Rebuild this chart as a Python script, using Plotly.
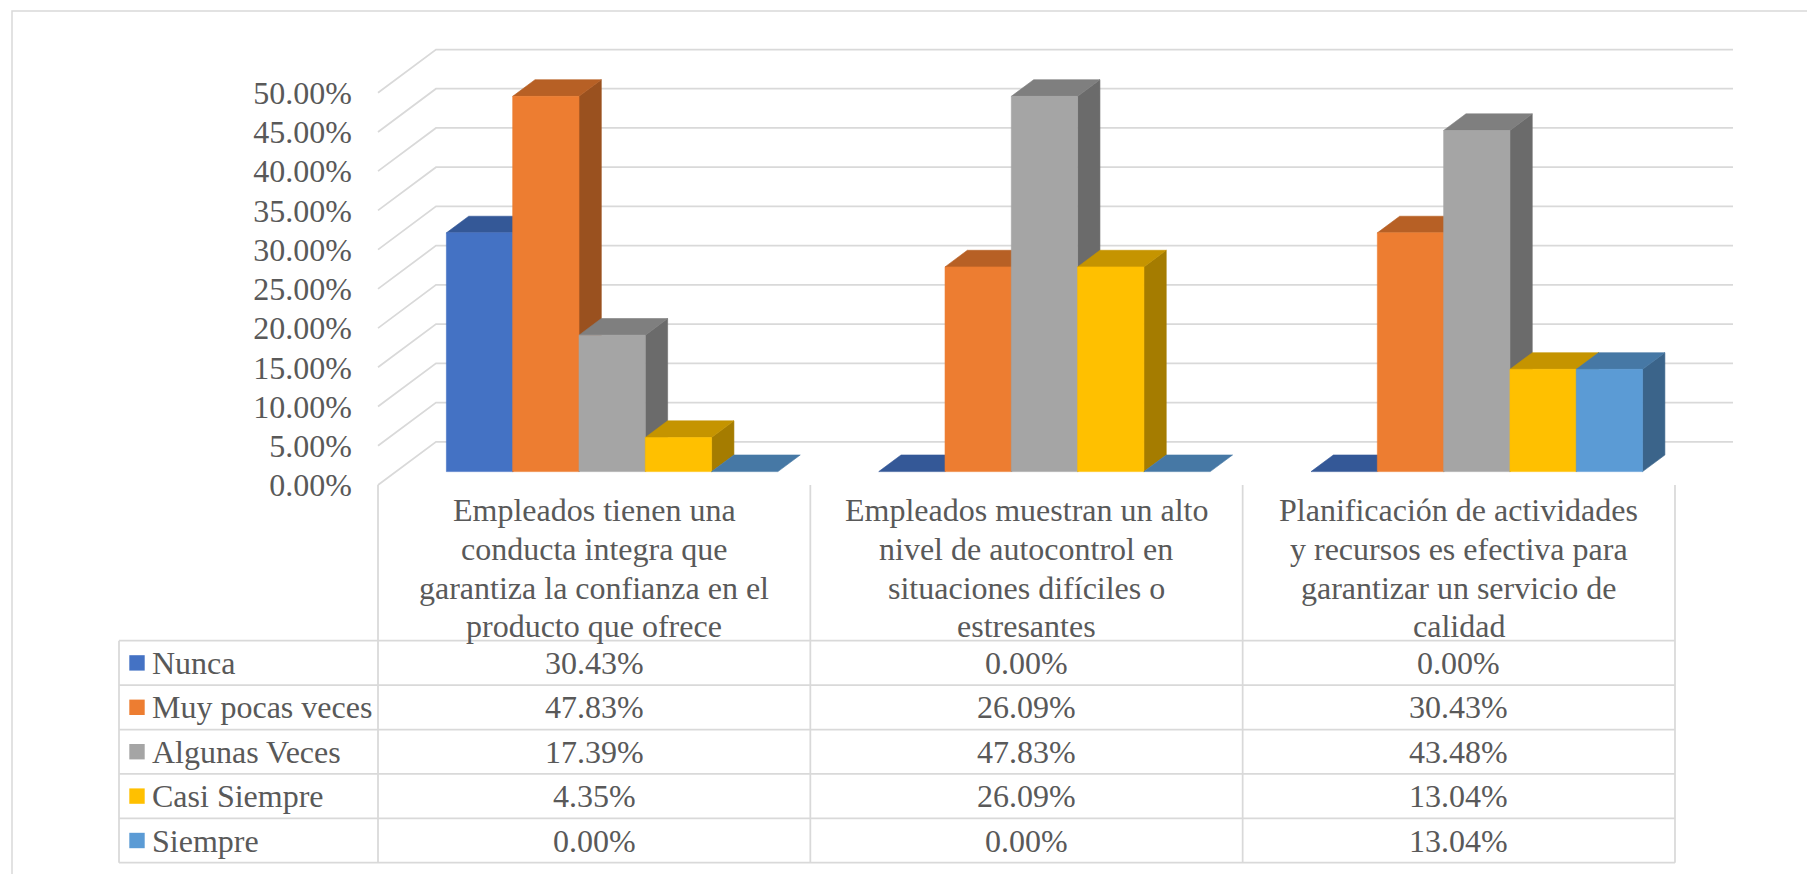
import plotly.graph_objects as go

# ---------------- data ----------------
SERIES = ["Nunca", "Muy pocas veces", "Algunas Veces", "Casi Siempre", "Siempre"]
CATEGORY_LINES = [
    ["Empleados tienen una", "conducta integra que", "garantiza la confianza en el", "producto que ofrece"],
    ["Empleados muestran un alto", "nivel de autocontrol en", "situaciones difíciles o", "estresantes"],
    ["Planificación de actividades", "y recursos es efectiva para", "garantizar un servicio de", "calidad"],
]
NUNCA = [30.43, 0.00, 0.00]
MUY_POCAS = [47.83, 26.09, 30.43]
ALGUNAS = [17.39, 47.83, 43.48]
CASI = [4.35, 26.09, 13.04]
SIEMPRE = [0.00, 0.00, 13.04]
VALUES = [NUNCA, MUY_POCAS, ALGUNAS, CASI, SIEMPRE]
TICKS = [0, 5, 10, 15, 20, 25, 30, 35, 40, 45, 50]

# ---------------- style ----------------
FRONT = ["#4472C4", "#ED7D31", "#A5A5A5", "#FFC000", "#5B9BD5"]


def shade(hexcol, k):
    r, g, b = int(hexcol[1:3], 16), int(hexcol[3:5], 16), int(hexcol[5:7], 16)
    return "#%02X%02X%02X" % (int(r * k), int(g * k), int(b * k))


TOP = [shade(c, 0.775) for c in FRONT]
SIDE = [shade(c, 0.65) for c in FRONT]
TEXT = "#595959"
GRID = "#D9D9D9"
FONT = "'Liberation Serif', 'Times New Roman', Times, serif"
FS = 32

W, H = 1807, 874
X0_PX, PX_PER_X = 378.0, 432.33   # x = -0.5 at this pixel
Y0_PX, PX_PER_Y = 485.0, 7.846    # y = 0 at this pixel
DX, DY = 58.0 / PX_PER_X, 43.2 / PX_PER_Y   # full depth oblique offset
F1, F2 = 0.31, 0.695                       # bar depth span (fraction)
BW = 66.3 / PX_PER_X                       # bar width (x units)


def xd(px):
    return -0.5 + (px - X0_PX) / PX_PER_X


def yd(py):
    return (Y0_PX - py) / PX_PER_Y


def P(x, y, d):
    return x + d * DX, y + d * DY


fig = go.Figure()

# gridlines (left wall diagonal + back wall)
gx, gy = [], []
for v in TICKS:
    gx += [-0.5, -0.5 + DX, 2.5 + DX, None]
    gy += [v, v + DY, v + DY, None]
fig.add_trace(go.Scatter(x=gx, y=gy, mode="lines", line=dict(color=GRID, width=1.75),
                         hoverinfo="skip", showlegend=False))


def poly(pts, color):
    xs = [p[0] for p in pts] + [pts[0][0]]
    ys = [p[1] for p in pts] + [pts[0][1]]
    fig.add_trace(go.Scatter(x=xs, y=ys, mode="lines", fill="toself", fillcolor=color,
                             line=dict(color=color, width=0.6), hoverinfo="skip",
                             showlegend=False))


for i in range(3):
    for j, vals in enumerate(VALUES):
        v = vals[i]
        xl = i - 2.5 * BW + j * BW
        xr = xl + BW
        if v > 0:
            poly([P(xr, 0, F1), P(xr, v, F1), P(xr, v, F2), P(xr, 0, F2)], SIDE[j])
        poly([P(xl, v, F1), P(xr, v, F1), P(xr, v, F2), P(xl, v, F2)], TOP[j])
        if v > 0:
            poly([P(xl, 0, F1), P(xr, 0, F1), P(xr, v, F1), P(xl, v, F1)], FRONT[j])

# ---------------- data table ----------------
shapes = []
TOP_ROW_PX, ROW_H_PX, LEFT_PX = 640.7, 44.4, 119.0
line_style = dict(color=GRID, width=1.75)
# vertical dividers
for k in range(4):
    xv = -0.5 + k
    shapes.append(dict(type="line", xref="x", yref="y", x0=xv, x1=xv, y0=0,
                       y1=yd(TOP_ROW_PX + 5 * ROW_H_PX), line=line_style))
shapes.append(dict(type="line", xref="x", yref="y", x0=xd(LEFT_PX), x1=xd(LEFT_PX),
                   y0=yd(TOP_ROW_PX), y1=yd(TOP_ROW_PX + 5 * ROW_H_PX), line=line_style))
for r in range(6):
    yy = yd(TOP_ROW_PX + r * ROW_H_PX)
    shapes.append(dict(type="line", xref="x", yref="y", x0=xd(LEFT_PX), x1=2.5,
                       y0=yy, y1=yy, line=line_style))
# outer border of picture
shapes.append(dict(type="rect", xref="paper", yref="paper", x0=12 / W, y0=1 - 11 / H,
                   x1=1.01, y1=-0.01, line=dict(color=GRID, width=1.5)))

annotations = []
tf = dict(family=FONT, size=FS, color=TEXT)
# category header lines
LINE_Y0_PX, LINE_STEP_PX = 510.0, 38.8
for i, lines in enumerate(CATEGORY_LINES):
    for k, txt in enumerate(lines):
        annotations.append(dict(x=i, y=yd(LINE_Y0_PX + k * LINE_STEP_PX), xref="x", yref="y",
                                text=txt, showarrow=False, xanchor="center", yanchor="middle",
                                font=tf))
# rows
for r, (name, vals) in enumerate(zip(SERIES, VALUES)):
    yc_px = TOP_ROW_PX + (r + 0.5) * ROW_H_PX
    yc = yd(yc_px)
    shapes.append(dict(type="rect", xref="x", yref="y", x0=xd(129.3), x1=xd(144.7),
                       y0=yd(yc_px - 7.7), y1=yd(yc_px + 7.7), fillcolor=FRONT[r],
                       line=dict(width=0)))
    annotations.append(dict(x=xd(150), y=yc, xref="x", yref="y", text=name, showarrow=False,
                            xanchor="left", yanchor="middle", font=tf))
    for i, v in enumerate(vals):
        annotations.append(dict(x=i, y=yc, xref="x", yref="y", text=f"{v:.2f}%",
                                showarrow=False, xanchor="center", yanchor="middle", font=tf))

xrange = [-0.5 - X0_PX / PX_PER_X, -0.5 + (W - X0_PX) / PX_PER_X]
yrange = [-(H - Y0_PX) / PX_PER_Y, Y0_PX / PX_PER_Y]

fig.update_layout(
    width=W, height=H, autosize=False,
    margin=dict(l=0, r=0, t=0, b=0, pad=0),
    paper_bgcolor="white", plot_bgcolor="white",
    showlegend=False,
    font=dict(family=FONT),
    xaxis=dict(range=xrange, visible=False, fixedrange=True),
    yaxis=dict(range=yrange, anchor="free", position=X0_PX / W, side="left",
               tickvals=TICKS, ticktext=[f"{v:.2f}%" for v in TICKS],
               showgrid=False, zeroline=False, showline=False, ticks="",
               ticklabelstandoff=26, tickfont=tf, fixedrange=True),
    shapes=shapes,
    annotations=annotations,
)

fig.write_html("out.html")
